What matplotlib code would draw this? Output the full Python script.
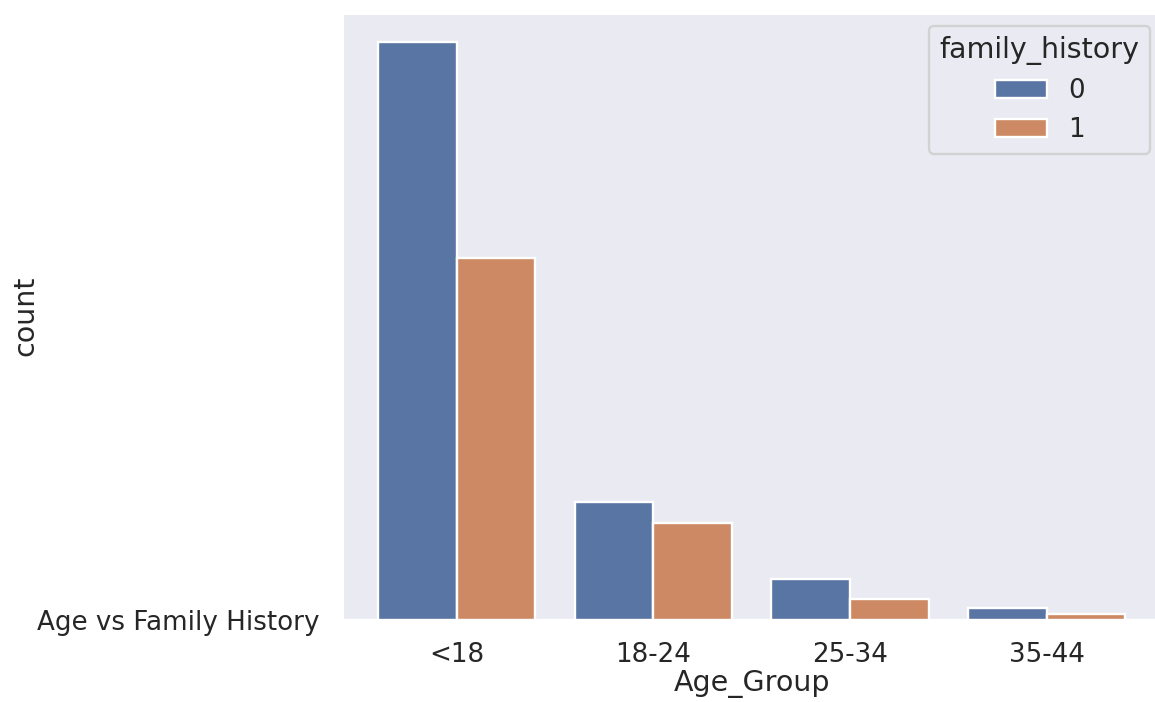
import matplotlib
matplotlib.use("Agg")
import matplotlib.pyplot as plt
import seaborn as sns
import pandas as pd

# counts (no y tick values shown, so the scale is relative)
age_groups = ['<18', '18-24', '25-34', '35-44']
count_no_history = [480, 98, 34, 10]
count_history = [300, 80, 17, 5]

df = pd.DataFrame({
    'Age_Group': age_groups * 2,
    'count': count_no_history + count_history,
    'family_history': ['0'] * 4 + ['1'] * 4,
})

sns.set_theme(style='darkgrid')
plt.rcParams['font.family'] = ['DejaVu Sans']

# 1155x702 at dpi 171 keeps seaborn's notebook sizes in proportion
fig = plt.figure(figsize=(1155 / 171, 702 / 171), dpi=171)
# the reference looks cropped on the right, so the axes run just past the edge
ax = fig.add_axes([0.296, 0.117, 0.711, 0.865])
sns.barplot(data=df, x='Age_Group', y='count', hue='family_history',
            hue_order=['0', '1'], ax=ax, errorbar=None)
ax.set_xlim(-0.585, 3.593)

# the title ended up as the only y tick label
ax.set_yticks([0])
ax.set_yticklabels(['Age vs Family History'])
ax.set_xlabel('Age_Group', labelpad=0.5)
ax.set_ylabel('count', labelpad=-1)
ax.legend(title='family_history', loc='upper right')

fig.savefig('out.png', dpi=171)
